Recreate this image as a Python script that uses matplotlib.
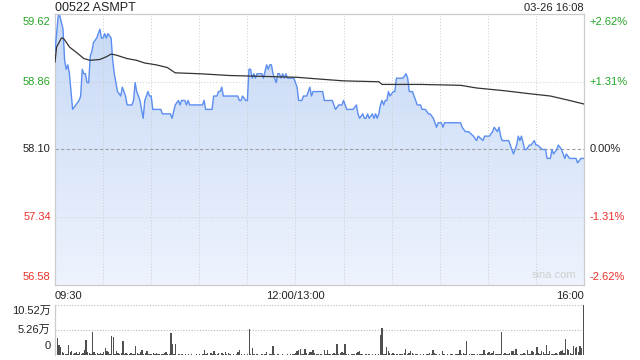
import matplotlib
matplotlib.use("Agg")
import matplotlib.pyplot as plt
import numpy as np
from matplotlib.colors import LinearSegmentedColormap

plt.rcParams["font.family"] = ["Liberation Sans", "Noto Sans CJK SC", "DejaVu Sans"]

TITLE = "00522 ASMPT"
STAMP = "03-26 16:08"
PREV_CLOSE = 58.10
PRICE_TICKS = [59.62, 58.86, 58.10, 57.34, 56.58]
PCT_LABELS = ["+2.62%", "+1.31%", "0.00%", "-1.31%", "-2.62%"]
TIME_LABELS = ["09:30", "12:00/13:00", "16:00"]
TIME_POS = [0, 150, 330]
VOL_TICKS = [10.52, 5.26, 0]
VOL_LABELS = ["10.52万", "5.26万", "0"]

# minutes since 09:30 (lunch break removed) and last price
PRICE_MIN = [0, 2, 3, 5, 6, 7, 8, 9, 10, 11, 13, 15, 16, 17, 18, 19, 20, 21, 22, 23,
             24, 26, 28, 29, 30, 31, 32, 33, 35, 36, 37, 38, 39, 41, 42, 44, 45, 48, 49, 50,
             51, 53, 54, 55, 56, 58, 59, 60, 61, 66, 67, 72, 73, 75, 77, 78, 79, 81, 82, 83,
             84, 92, 93, 94, 98, 99, 101, 102, 103, 104, 105, 114, 115, 116, 117, 119, 120, 121, 122, 123,
             124, 125, 126, 129, 130, 132, 133, 134, 135, 136, 137, 138, 139, 140, 141, 142, 143, 144, 145, 149,
             150, 151, 152, 154, 155, 157, 158, 159, 160, 161, 167, 168, 173, 174, 175, 177, 179, 180, 181, 182,
             186, 188, 189, 190, 192, 193, 194, 195, 196, 198, 199, 200, 201, 202, 203, 204, 205, 206, 207, 208,
             209, 211, 212, 213, 217, 219, 220, 221, 223, 225, 226, 228, 229, 231, 233, 234, 236, 238, 239, 241,
             242, 243, 253, 254, 256, 258, 261, 263, 264, 267, 268, 271, 273, 274, 276, 277, 278, 279, 283, 284,
             286, 288, 289, 290, 291, 293, 294, 296, 297, 299, 300, 301, 304, 306, 307, 309, 310, 311, 313, 314,
             316, 318, 319, 321, 322, 324, 325, 326, 328, 330]
PRICE = [59.20, 59.60, 59.60, 59.45, 59.10, 59.00, 59.05, 58.95, 58.75, 58.55, 58.60, 58.65, 58.70, 59.00, 58.95, 58.95, 58.85, 58.85, 59.15, 59.20,
         59.30, 59.35, 59.45, 59.35, 59.35, 59.40, 59.35, 59.40, 59.35, 59.10, 58.95, 58.85, 58.75, 58.70, 58.80, 58.70, 58.60, 58.60, 58.65, 58.85,
         58.75, 58.65, 58.55, 58.45, 58.65, 58.75, 58.70, 58.70, 58.55, 58.55, 58.50, 58.50, 58.45, 58.60, 58.65, 58.60, 58.65, 58.65, 58.60, 58.65,
         58.60, 58.60, 58.65, 58.55, 58.55, 58.70, 58.70, 58.75, 58.75, 58.80, 58.70, 58.70, 58.65, 58.65, 58.70, 58.65, 58.65, 59.00, 59.00, 58.90,
         58.95, 58.90, 58.95, 58.95, 58.90, 59.05, 59.00, 59.05, 59.05, 58.95, 58.90, 58.85, 58.95, 58.95, 58.90, 58.95, 58.90, 58.95, 58.90, 58.90,
         58.85, 58.80, 58.65, 58.65, 58.70, 58.70, 58.75, 58.80, 58.70, 58.75, 58.75, 58.65, 58.65, 58.60, 58.55, 58.60, 58.60, 58.65, 58.60, 58.55,
         58.55, 58.60, 58.50, 58.45, 58.50, 58.45, 58.45, 58.50, 58.45, 58.50, 58.45, 58.50, 58.45, 58.50, 58.60, 58.65, 58.60, 58.65, 58.65, 58.75,
         58.70, 58.75, 58.75, 58.90, 58.90, 58.95, 58.90, 58.75, 58.75, 58.65, 58.60, 58.60, 58.55, 58.55, 58.50, 58.50, 58.45, 58.35, 58.40, 58.40,
         58.35, 58.40, 58.40, 58.35, 58.30, 58.30, 58.25, 58.20, 58.25, 58.20, 58.25, 58.25, 58.30, 58.35, 58.30, 58.35, 58.25, 58.20, 58.20, 58.15,
         58.05, 58.15, 58.25, 58.20, 58.25, 58.10, 58.10, 58.15, 58.15, 58.20, 58.15, 58.15, 58.10, 58.10, 58.00, 58.00, 58.10, 58.05, 58.10, 58.15,
         58.10, 58.00, 58.05, 58.00, 58.00, 58.00, 58.00, 57.95, 58.00, 58.00]

# average price line
AVG_MIN = [0, 1, 4, 5, 6, 9, 14, 18, 22, 28, 32, 35, 38, 45, 51, 56, 63, 70, 75, 90,
           109, 130, 151, 165, 180, 202, 204, 228, 253, 263, 280, 294, 309, 321, 330]
AVG_PRICE = [59.08, 59.25, 59.35, 59.35, 59.33, 59.25, 59.18, 59.12, 59.10, 59.11, 59.14, 59.17, 59.16, 59.12, 59.10, 59.07, 59.05, 59.02, 58.96, 58.95,
             58.93, 58.92, 58.91, 58.89, 58.87, 58.86, 58.83, 58.83, 58.82, 58.79, 58.76, 58.73, 58.70, 58.65, 58.61]

# volume per minute, in 万 shares (m0 .. m330)
VOLUME = [
    1.54, 3.65, 2.10, 1.58, 0.70, 0.40, 0.20, 0.30, 2.10, 0.56,
    0.84, 0.30, 0.35, 0.70, 0.20, 0.56, 0.25, 0.35, 1.05, 3.15,
    0.56, 0.35, 0.20, 4.90, 0.56, 0.20, 0.35, 0.15, 0.40, 0.20,
    0.56, 1.54, 0.84, 0.70, 0.25, 4.00, 3.80, 0.30, 0.84, 0.40,
    0.20, 0.35, 2.95, 0.20, 0.35, 0.15, 0.20, 0.35, 0.20, 0.15,
    1.80, 0.40, 0.20, 0.70, 1.05, 0.20, 0.40, 0.84, 0.20, 0.28,
    0.15, 0.35, 0.20, 0.35, 0.15, 0.28, 0.20, 0.15, 0.40, 0.56,
    0.20, 0.28, 4.60, 2.24, 0.15, 2.24, 0.10, 0.15, 0.10, 0.20,
    0.10, 0.15, 0.10, 0.20, 0.10, 0.15, 0.10, 0.10, 0.20, 0.10,
    0.15, 0.10, 0.20, 0.98, 0.15, 0.35, 0.10, 0.40, 0.15, 0.84,
    0.20, 0.15, 0.40, 0.10, 0.40, 0.15, 0.56, 0.20, 0.35, 0.15,
    0.10, 0.15, 0.10, 0.20, 0.56, 0.98, 0.15, 0.10, 0.20, 0.10,
    0.15, 5.47, 0.20, 1.40, 0.15, 0.10, 0.20, 0.10, 0.10, 0.15,
    0.10, 0.20, 0.56, 0.10, 0.15, 0.20, 1.80, 0.20, 0.10, 0.15,
    0.10, 0.10, 0.15, 0.10, 0.10, 0.15, 0.10, 0.15, 0.20, 0.30,
    0.50, 0.84, 1.10, 1.26, 0.20, 0.15, 1.26, 0.40, 0.20, 0.56,
    0.70, 0.98, 0.40, 0.20, 0.15, 0.10, 0.15, 0.10, 0.98, 0.20,
    0.98, 0.20, 0.15, 0.20, 0.35, 0.20, 2.24, 0.20, 0.40, 0.70,
    0.40, 2.24, 0.20, 0.15, 0.10, 0.15, 0.20, 0.15, 0.40, 0.56,
    0.84, 0.20, 0.15, 0.10, 0.15, 0.10, 0.15, 0.10, 0.15, 0.10,
    0.15, 0.10, 0.20, 4.20, 5.60, 0.20, 0.15, 1.68, 0.84, 0.40,
    0.20, 0.40, 0.15, 0.20, 0.15, 0.20, 0.15, 0.20, 0.40, 1.20,
    0.20, 0.40, 0.90, 0.35, 0.30, 0.20, 0.15, 0.10, 0.15, 0.10,
    0.15, 0.10, 0.15, 0.20, 0.35, 0.20, 1.05, 0.50, 0.20, 0.10,
    0.15, 0.10, 0.84, 0.15, 0.10, 0.15, 0.10, 0.15, 0.20, 0.10,
    0.15, 0.20, 0.15, 1.05, 0.20, 0.50, 0.15, 3.00, 0.10, 0.15,
    0.20, 0.30, 0.15, 0.10, 0.15, 0.20, 0.15, 0.30, 1.05, 0.20,
    0.50, 0.60, 0.20, 0.35, 0.90, 0.20, 0.15, 0.20, 0.15, 4.90,
    0.20, 0.40, 0.15, 0.20, 0.35, 0.77, 0.84, 0.20, 1.20, 0.15,
    0.10, 0.15, 0.20, 0.35, 0.20, 1.05, 0.15, 0.30, 0.90, 0.70,
    0.20, 1.60, 0.40, 0.15, 0.77, 0.60, 0.30, 2.10, 0.20, 0.90,
    0.30, 0.20, 0.15, 0.35, 0.20, 0.60, 0.90, 1.05, 0.50, 3.30,
    1.20, 1.05, 0.50, 0.30, 1.90, 1.40, 1.75, 0.60, 1.90, 1.47,
    10.52,
]

GREEN = "#26a626"
RED = "#e8302a"
GRID = "#cccccc"


def label_color(v, ref):
    if v > ref + 1e-9:
        return GREEN
    if v < ref - 1e-9:
        return RED
    return "#222222"


fig = plt.figure(figsize=(6.4, 3.6), dpi=100)
fig.patch.set_facecolor("white")

# ---- price panel
ax = fig.add_axes([55 / 640, 75 / 360, 529 / 640, 271 / 360])
y_lo, y_hi = PRICE_TICKS[-1], PRICE_TICKS[0]
x_hi = len(VOLUME) - 1

poly = ax.fill_between(PRICE_MIN, PRICE, y_lo, color="none", linewidth=0)
grad = np.linspace(0, 1, 256).reshape(-1, 1)
cmap = LinearSegmentedColormap.from_list("fill", ["#eef3fd", "#c6d9f6"])
im = ax.imshow(grad, extent=[0, x_hi, y_lo, y_hi], origin="lower", cmap=cmap,
               aspect="auto", zorder=1)
im.set_clip_path(poly.get_paths()[0], transform=ax.transData)

ax.plot(PRICE_MIN, PRICE, color="#5b8ef0", linewidth=1.0, zorder=3)
ax.plot(AVG_MIN, AVG_PRICE, color="#333333", linewidth=0.9, zorder=4)

for x in range(30, x_hi, 30):
    ax.axvline(x, color=GRID, linewidth=0.7, linestyle=(0, (1, 2)), zorder=2)
for v in PRICE_TICKS[1:-1]:
    if abs(v - PREV_CLOSE) < 1e-9:
        ax.axhline(v, color="#a0a0a0", linewidth=0.8, linestyle=(0, (3, 2)), zorder=2)
    else:
        ax.axhline(v, color=GRID, linewidth=0.7, linestyle=(0, (1, 2)), zorder=2)

ax.set_xlim(0, x_hi)
ax.set_ylim(y_lo, y_hi)
ax.set_xticks([])
ax.set_yticks([])
for s in ax.spines.values():
    s.set_color(GRID)
    s.set_linewidth(0.9)

n = len(PRICE_TICKS)
for i, (v, pct) in enumerate(zip(PRICE_TICKS, PCT_LABELS)):
    va = "top" if i == 0 else ("bottom" if i == n - 1 else "center")
    off = -2 if i == 0 else (2 if i == n - 1 else 0)
    c = label_color(v, PREV_CLOSE)
    ax.annotate(f"{v:.2f}", (0, v), xycoords=("axes fraction", "data"),
                xytext=(-3, off), textcoords="offset points",
                ha="right", va=va, fontsize=8, color=c)
    ax.annotate(pct, (1, v), xycoords=("axes fraction", "data"),
                xytext=(4, off), textcoords="offset points",
                ha="left", va=va, fontsize=8, color=c)

ax.annotate(TITLE, (0, 1), xycoords="axes fraction", xytext=(0, 2),
            textcoords="offset points", ha="left", va="baseline",
            fontsize=9, color="#222222")
ax.annotate(STAMP, (1, 1), xycoords="axes fraction", xytext=(0, 2),
            textcoords="offset points", ha="right", va="baseline",
            fontsize=8, color="#222222")
ax.text(0.985, 0.02, "sina.com", transform=ax.transAxes, ha="right", va="bottom",
        fontsize=8, color="#cfcfcf")

for lab, pos in zip(TIME_LABELS, TIME_POS):
    ha = "left" if pos == 0 else ("right" if pos == x_hi else "center")
    ax.annotate(lab, (pos, 0), xycoords=("data", "axes fraction"),
                xytext=(0, -4), textcoords="offset points",
                ha=ha, va="top", fontsize=8, color="#222222")

# ---- volume panel
vx = fig.add_axes([55 / 640, 5 / 360, 529 / 640, 50 / 360])
vx.bar(np.arange(len(VOLUME)), VOLUME, width=0.85, color="#505050", linewidth=0)
for v in VOL_TICKS[:-1]:
    vx.axhline(v, color="#bbbbbb", linewidth=0.8, linestyle=(0, (1, 1.5)), zorder=0)
vx.set_xlim(-0.5, x_hi + 0.5)
vx.set_ylim(0, VOL_TICKS[0])
vx.set_xticks([])
vx.set_yticks([])
for k, s in vx.spines.items():
    s.set_visible(k == "left")
vx.spines["left"].set_color(GRID)
vx.spines["left"].set_linewidth(0.9)

for i, (v, lab) in enumerate(zip(VOL_TICKS, VOL_LABELS)):
    va = "top" if i == 0 else ("bottom" if i == len(VOL_TICKS) - 1 else "center")
    off = -1 if i == 0 else (3 if i == len(VOL_TICKS) - 1 else 0)
    vx.annotate(lab, (0, v), xycoords=("axes fraction", "data"),
                xytext=(-3, off), textcoords="offset points",
                ha="right", va=va, fontsize=8, color="#222222")

fig.savefig("out.png", dpi=100, facecolor="white")
